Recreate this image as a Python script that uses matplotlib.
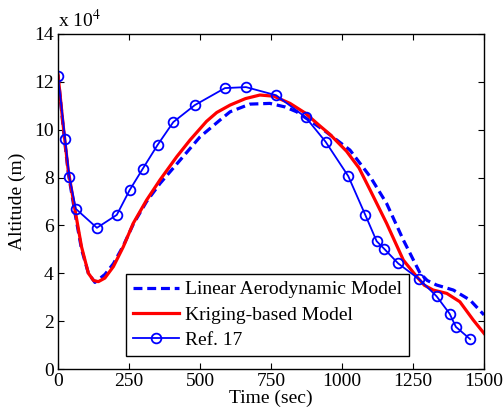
import matplotlib.pyplot as plt

plt.rcParams['font.family'] = ['Liberation Serif', 'DejaVu Serif']
plt.rcParams['mathtext.fontset'] = 'stix'

# altitude in units of 1e4 m
t_linear = [0, 19, 36, 60, 83, 107, 130, 165, 195, 230, 265, 312, 359, 430, 500, 570, 606,
            676, 746, 800, 840, 934, 1028, 1099, 1157, 1216, 1275, 1300, 1333, 1392, 1451, 1500]
h_linear = [12.3, 10.0, 8.2, 6.5, 5.0, 4.0, 3.62, 3.95, 4.4, 5.15, 6.05, 7.0, 7.75, 8.73, 9.7,
            10.4, 10.75, 11.07, 11.1, 10.95, 10.75, 10.0, 9.15, 8.04, 6.92, 5.39, 4.0, 3.7,
            3.51, 3.30, 2.88, 2.26]

t_kriging = [0, 19, 36, 60, 83, 107, 125, 142, 165, 195, 230, 265, 312, 359, 418, 465, 523,
             559, 606, 660, 711, 760, 817, 870, 923, 958, 1016, 1060, 1099, 1157, 1216, 1263,
             1290, 1321, 1369, 1415, 1462, 1500]
h_kriging = [12.3, 10.1, 8.3, 6.64, 5.1, 4.0, 3.7, 3.65, 3.8, 4.28, 5.11, 6.09, 7.06, 7.9,
             8.87, 9.57, 10.35, 10.72, 11.03, 11.3, 11.45, 11.4, 11.1, 10.7, 10.15, 9.8, 9.1,
             8.4, 7.48, 6.09, 4.55, 3.86, 3.5, 3.3, 3.16, 2.81, 2.05, 1.49]

t_ref17 = [0, 25, 40, 63, 137, 207, 252, 298, 351, 406, 482, 588, 662, 768, 872, 942, 1022,
           1082, 1122, 1148, 1198, 1271, 1333, 1379, 1401, 1451]
h_ref17 = [12.24, 9.61, 8.02, 6.69, 5.9, 6.44, 7.47, 8.36, 9.37, 10.32, 11.03, 11.74, 11.78,
           11.44, 10.52, 9.5, 8.06, 6.44, 5.34, 5.03, 4.41, 3.76, 3.04, 2.31, 1.76, 1.25]

fig = plt.figure(figsize=(5.03, 4.17), dpi=100)
ax = fig.add_axes([58 / 503, 48 / 417, 426 / 503, 335 / 417])

ax.plot(t_linear, h_linear, color='blue', linestyle='--', linewidth=2.3, dashes=(2.8, 1.5),
        label='Linear Aerodynamic Model')
ax.plot(t_kriging, h_kriging, color='red', linewidth=2.3, label='Kriging-based Model')
ax.plot(t_ref17, h_ref17, color='blue', linewidth=1.3, marker='o', markersize=7,
        markerfacecolor='none', markeredgewidth=1.3, label='Ref. 17')

ax.set_xlim(0, 1500)
ax.set_ylim(0, 14)
ax.set_xticks([0, 250, 500, 750, 1000, 1250, 1500])
ax.set_yticks([0, 2, 4, 6, 8, 10, 12, 14])
ax.tick_params(direction='in', top=True, right=True, labelsize=14, length=4, pad=3)
for s in ax.spines.values():
    s.set_linewidth(1.0)

ax.set_xlabel('Time (sec)', fontsize=14, labelpad=0)
ax.set_ylabel('Altitude (m)', fontsize=14, labelpad=6)
ax.text(0.0, 1.01, r'x 10$^4$', transform=ax.transAxes, fontsize=14, va='bottom', ha='left')

leg = ax.legend(loc='lower left', bbox_to_anchor=(68 / 426, 13 / 335), fontsize=14,
                handlelength=2.4, handletextpad=0.3, borderpad=0.35, labelspacing=0.4,
                fancybox=False, framealpha=1, borderaxespad=0)
leg.get_frame().set_edgecolor('black')
leg.get_frame().set_linewidth(1.0)

plt.savefig('out.png', dpi=100)
